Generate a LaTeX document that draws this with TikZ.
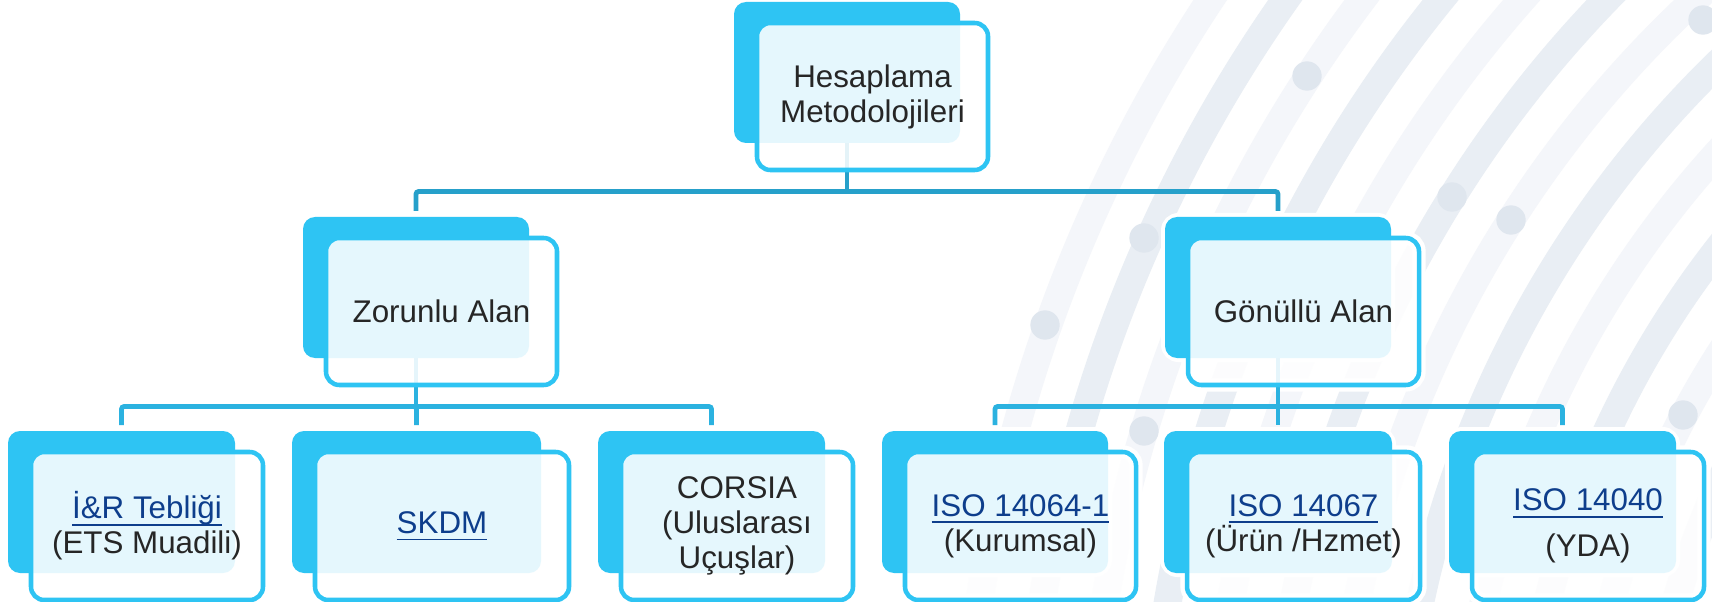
\documentclass[tikz,border=0pt]{standalone}
\usepackage{fontspec}
\setmainfont{Liberation Sans}
\usetikzlibrary{fit}
\definecolor{cardcyan}{RGB}{46,196,243}
\definecolor{conntop}{RGB}{38,160,202}
\definecolor{connlow}{RGB}{43,178,224}
\definecolor{txtc}{RGB}{38,38,38}
\definecolor{linkc}{RGB}{14,62,140}
\definecolor{arcA}{RGB}{244,246,250}
\definecolor{arcB}{RGB}{233,238,244}
\definecolor{dotc}{RGB}{223,230,238}
\newcommand\lnk[1]{{\color{linkc}\setbox0\hbox{#1}\rlap{\rule[-5pt]{\wd0}{1.1pt}}\box0}}
\newcommand\mkcard[5]{%
  \node[box, fit={(#2,#3)(#4,#5)}] (#1-b) {};
  \node[box, fit={(#2+23,#3+21)(#4+28,#5+27)}] (#1-f) {};
}
\begin{document}
\begin{tikzpicture}[x=0.75pt,y=-0.75pt,
  box/.style={inner sep=0pt,outer sep=0pt},
  halo/.style={draw=white,line width=#1,rounded corners=10pt},
  backshape/.style={fill=cardcyan,rounded corners=9pt},
  frontshape/.style={draw=cardcyan,line width=3.4pt,fill=white,fill opacity=0.88,rounded corners=10pt},
  conn/.style={line width=3.6pt,rounded corners=2pt},
  txt/.style={font=\fontsize{23.5}{26.25}\selectfont,text=txtc,align=center,inner sep=0pt},
  arcstripe/.style={line width=21pt}]

\fill[white] (0,0) rectangle (1712,602);
\useasboundingbox (0,0) rectangle (1712,602);

% background arcs
\begin{scope}
  \clip (0,0) rectangle (1712,602);
  \foreach \k in {0,2,...,10}
    \draw[arcA, arcstripe] (2459,824) circle[radius={(1496-62*\k)*0.75pt}];
  \foreach \k in {1,3,...,11}
    \draw[arcB, arcstripe] (2459,824) circle[radius={(1496-62*\k)*0.75pt}];
  \foreach \p in {(1307,76),(1144,238),(1045,325),(1452,197),(1511,220),(1144,431),(1683,415),(1703,20)}
    \fill[dotc] \p circle[radius=11pt];
\end{scope}

% card frames (named nodes)
\mkcard{top}{734}{2}{960}{143}
\mkcard{zor}{303}{217}{529}{358}
\mkcard{gon}{1165}{217}{1391}{358}
\mkcard{ir}{8}{431}{235}{573}
\mkcard{skdm}{292}{431}{541}{573}
\mkcard{cor}{598}{431}{825}{573}
\mkcard{isoa}{882}{431}{1108}{573}
\mkcard{isob}{1164}{431}{1392}{573}
\mkcard{isoc}{1449}{431}{1676}{573}

% white halos
\foreach \n in {top,zor,gon,ir,skdm,cor,isoa,isob,isoc} {
  \draw[halo=6pt] (\n-b.north west) rectangle (\n-b.south east);
  \draw[halo=10pt] (\n-f.north west) rectangle (\n-f.south east);
}

% connectors
\coordinate (j1) at (847,191.5);
\coordinate (j2) at (416,406.5);
\coordinate (j3) at (1278,406.5);
\draw[conn, conntop] (top-b.south) -- (j1);
\draw[conn, conntop, shorten >=4.5pt] (j1) -| (zor-b.north);
\draw[conn, conntop, shorten >=4.5pt] (j1) -| (gon-b.north);
\draw[conn, connlow] (zor-b.south) -- (j2);
\draw[conn, connlow, shorten >=4.5pt] (j2) -| (ir-b.north);
\draw[conn, connlow, shorten >=4.5pt] (j2) -| (skdm-b.north);
\draw[conn, connlow, shorten >=4.5pt] (j2) -| (cor-b.north);
\draw[conn, connlow] (gon-b.south) -- (j3);
\draw[conn, connlow, shorten >=4.5pt] (j3) -| (isoa-b.north);
\draw[conn, connlow, shorten >=4.5pt] (j3) -| (isob-b.north);
\draw[conn, connlow, shorten >=4.5pt] (j3) -| (isoc-b.north);

% cards
\foreach \n in {top,zor,gon,ir,skdm,cor,isoa,isob,isoc} {
  \fill[backshape] (\n-b.north west) rectangle (\n-b.south east);
  \path[frontshape] (\n-f.north west) rectangle (\n-f.south east);
}

% texts
\node[txt] (top-t) at (top-f.center) {Hesaplama\\Metodolojileri};
\node[txt] (zor-t) at (zor-f.center) {Zorunlu Alan};
\node[txt] (gon-t) at (gon-f.center) {Gönüllü Alan};
\node[txt] (ir-t) at (ir-f.center) {\lnk{İ\&R Tebliği}\\(ETS Muadili)};
\node[txt] (skdm-t) at (skdm-f.center) {\lnk{SKDM}};
\node[txt] (cor-t) at (cor-f.center) {CORSIA\\(Uluslarası\\Uçuşlar)};
\node[txt] (isoa-t) at (isoa-f.center) {\lnk{ISO 14064-1}\\(Kurumsal)};
\node[txt] (isob-t) at (isob-f.center) {\lnk{ISO 14067}\\(Ürün /Hzmet)};
\node[txt] (isoc-t) at (isoc-f.center) {\lnk{ISO 14040}\\[8pt](YDA)};
\end{tikzpicture}
\end{document}
